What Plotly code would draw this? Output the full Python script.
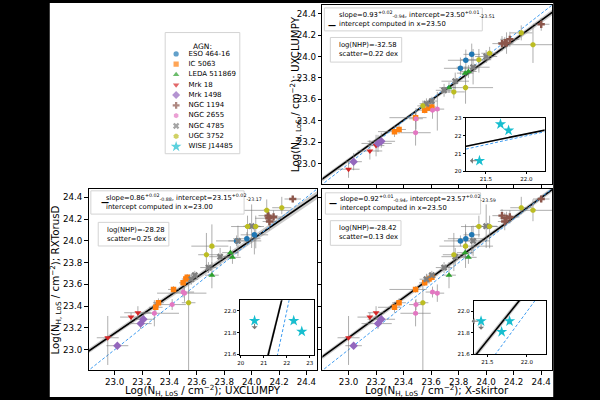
import numpy as np
import plotly.graph_objects as go

# ---------------- data ----------------
agn_names = ['ESO 464-16', 'IC 5063', 'LEDA 511869', 'Mrk 18', 'Mrk 1498',
             'NGC 1194', 'NGC 2655', 'NGC 4785', 'UGC 3752', 'WISE J14485']
agn_colors = ['#1f77b4', '#ff7f0e', '#2ca02c', '#d62728', '#9467bd',
              '#8c564b', '#e377c2', '#7f7f7f', '#bcbd22', '#17becf']
agn_symbols = ['circle', 'square', 'triangle-up', 'triangle-down', 'diamond',
               'cross', 'hexagon', 'x', 'octagon', 'star']
agn_sizes = [5.5, 5.5, 6, 6, 6.5, 6, 5.5, 6, 5.5, 8.5]

# observations (X-skirtor = S, UXCLUMPY = U, RXTorusD = R), log N_H,LoS
obs_agn = (['Mrk 18'] * 3 + ['Mrk 1498'] * 3 + ['IC 5063'] * 6 + ['NGC 2655'] * 4 +
           ['UGC 3752'] * 7 + ['NGC 4785'] * 6 + ['LEDA 511869'] * 3 +
           ['ESO 464-16'] * 3 + ['NGC 1194'] * 5)
S = [23.00, 23.155, 23.20,
     23.037, 23.214, 23.238,
     23.334, 23.367, 23.487, 23.553, 23.585, 23.605,
     23.487, 23.49, 23.61, 23.645,
     23.54, 23.765, 23.85, 23.947, 24.025, 24.255, 24.34,
     23.566, 23.605, 23.694, 23.775, 23.905, 24.00,
     23.73, 23.847, 23.871,
     23.813, 23.852, 23.895,
     24.115, 24.135, 24.148, 24.172, 24.40]
S_lo = [0.08, 0.09, 0.06, 0.06, 0.12, 0.10, 0.12, 0.05, 0.19, 0.04, 0.04, 0.03,
        0.11, 0.05, 0.05, 0.05, 0.04, 0.08, 0.19, 0.13, 0.06, 0.08, 0.24,
        0.05, 0.04, 0.06, 0.10, 0.12, 0.08, 0.05, 0.06, 0.06, 0.12, 0.13, 0.06,
        0.07, 0.05, 0.05, 0.07, 0.06]
S_hi = [0.08, 0.09, 0.06, 0.06, 0.10, 0.10, 0.05, 0.05, 0.08, 0.04, 0.04, 0.03,
        0.11, 0.05, 0.05, 0.05, 0.04, 0.08, 0.20, 0.09, 0.06, 0.08, 0.15,
        0.05, 0.04, 0.06, 0.10, 0.12, 0.08, 0.05, 0.06, 0.06, 0.12, 0.13, 0.06,
        0.07, 0.05, 0.05, 0.07, 0.06]
U = [22.95, 23.12, 23.17,
     23.02, 23.19, 23.21,
     23.30, 23.32, 23.43, 23.50, 23.52, 23.53,
     23.29, 23.42, 23.50, 23.51,
     23.54, 23.67, 23.71, 23.97, 24.03, 24.22, 24.11,
     23.56, 23.585, 23.685, 23.77, 23.90, 24.00,
     23.71, 23.845, 23.86,
     23.89, 23.965, 24.02,
     24.12, 24.13, 24.125, 24.16, 24.30]
U_lo = [0.08, 0.08, 0.10, 0.08, 0.08, 0.06, 0.05, 0.04, 0.04, 0.03, 0.03, 0.03,
        0.12, 0.10, 0.08, 0.20, 0.05, 0.06, 0.15, 0.12, 0.06, 0.07, 0.17,
        0.05, 0.04, 0.06, 0.08, 0.16, 0.06, 0.05, 0.06, 0.06, 0.06, 0.10, 0.10,
        0.07, 0.05, 0.10, 0.07, 0.06]
U_hi = [0.08, 0.10, 0.10, 0.08, 0.08, 0.08, 0.05, 0.04, 0.04, 0.03, 0.03, 0.03,
        0.18, 0.10, 0.08, 0.16, 0.05, 0.08, 0.12, 0.10, 0.06, 0.07, 0.17,
        0.05, 0.04, 0.06, 0.08, 0.17, 0.06, 0.05, 0.06, 0.06, 0.10, 0.10, 0.10,
        0.07, 0.05, 0.10, 0.07, 0.06]
R = [23.11, 23.30, 23.34,
     23.037, 23.24, 23.28,
     23.39, 23.432, 23.554, 23.615, 23.65, 23.666,
     23.335, 23.415, 23.53, 23.52,
     23.432, 23.873, 23.952, 24.132, 24.132, 24.305, 24.281,
     23.648, 23.685, 23.755, 23.855, 24.00, 24.135,
     23.685, 23.892, 23.849,
     24.00, 24.02, 24.056,
     24.232, 24.178, 24.208, 24.22, 24.385]
R_lo = [0.25, 0.04, 0.06, 0.03, 0.05, 0.04, 0.05, 0.04, 0.03, 0.03, 0.03, 0.03,
        0.12, 0.05, 0.05, 0.08, 0.80, 0.15, 0.20, 0.10, 0.20, 0.06, 0.10,
        0.05, 0.04, 0.05, 0.08, 0.14, 0.20, 0.12, 0.06, 0.06, 0.05, 0.06, 0.18,
        0.06, 0.08, 0.06, 0.06, 0.03]
R_hi = [0.20, 0.04, 0.06, 0.03, 0.05, 0.04, 0.05, 0.04, 0.03, 0.03, 0.03, 0.03,
        0.12, 0.05, 0.05, 0.08, 0.20, 0.20, 0.20, 0.10, 0.10, 0.10, 0.10,
        0.05, 0.04, 0.05, 0.08, 0.14, 0.20, 0.12, 0.06, 0.06, 0.05, 0.06, 0.08,
        0.06, 0.08, 0.06, 0.06, 0.03]

# WISE J14485 (only visible in the insets)
wise_S = [21.42, 21.68, 21.78]
wise_U = [20.60, 22.65, 22.30]
wise_R = [21.91, 21.81, 21.91]
wise_S_err = [0.0, 0.02, 0.02]
wise_U_err = [0.05, 0.05, 0.05]
wise_R_err = [0.0, 0.02, 0.03]
wise_S_uplim = [True, False, False]
wise_U_uplim = [False, False, False]
wise_R_uplim = [True, False, False]

# fits (top-right: S vs U, bottom-left: U vs R, bottom-right: S vs R)
fit_slope = [0.93, 0.86, 0.92]
fit_slope_err = [0.02, 0.02, 0.01]
fit_slope_lo_txt = ['-0.94', '-0.88', '-0.94']
fit_slope_hi_txt = ['+0.02', '+0.02', '+0.01']
fit_int = [23.50, 23.15, 23.57]
fit_int_err = [0.015, 0.02, 0.02]
fit_int_lo_txt = ['-23.51', '-23.17', '-23.59']
fit_int_hi_txt = ['+0.01', '+0.02', '+0.02']
fit_x0 = [23.50, 23.00, 23.50]
fit_lognhp = ['-32.58', '-28.28', '-28.42']
fit_scatter = ['0.22', '0.25', '0.13']

main_ticks = [23.0, 23.2, 23.4, 23.6, 23.8, 24.0, 24.2, 24.4]

# ---------------- layout helpers ----------------
W, H = 600, 400
FONT = 'DejaVu Sans'


def px(x):
    return x / W


def py(y):
    return 1 - y / H


main_range = [22.81, 24.48]
main_dom = {
    0: ([px(321), px(552)], [py(184), py(2)]),
    1: ([px(86), px(316)], [py(373), py(188.5)]),
    2: ([px(321), px(552)], [py(373), py(188.5)]),
}
inset_dom = {
    0: ([px(465), px(544.3)], [py(171), py(116.7)]),
    1: ([px(238.5), px(313)], [py(357.7), py(301.7)]),
    2: ([px(473.3), px(545.7)], [py(356.7), py(302.3)]),
}
inset_xr = {0: [21.25, 22.225], 1: [19.98, 23.2], 2: [21.33, 22.24]}
inset_yr = {0: [20.0, 23.0], 1: [21.59, 22.1], 2: [21.6, 22.1]}
inset_xt = {0: [21.5, 22.0], 1: [20, 21, 22, 23], 2: [21.5, 22.0]}
inset_yt = {0: [20, 21, 22, 23], 1: [21.6, 21.8, 22.0], 2: [21.6, 21.8, 22.0]}
inset_xtt = {0: ['21.5', '22.0'], 1: ['20', '21', '22', '23'], 2: ['21.5', '22.0']}
inset_ytt = {0: ['20', '21', '22', '23'], 1: ['21.6', '21.8', '22.0'], 2: ['21.6', '21.8', '22.0']}

panel_vars = {0: ('S', 'U'), 1: ('U', 'R'), 2: ('S', 'R')}
vals = {'S': (S, S_lo, S_hi), 'U': (U, U_lo, U_hi), 'R': (R, R_lo, R_hi)}
wvals = {'S': (wise_S, wise_S_err, wise_S_uplim), 'U': (wise_U, wise_U_err, wise_U_uplim),
         'R': (wise_R, wise_R_err, wise_R_uplim)}

main_ax = {0: ('x', 'y'), 1: ('x2', 'y2'), 2: ('x3', 'y3')}
inset_ax = {0: ('x4', 'y4'), 1: ('x5', 'y5'), 2: ('x6', 'y6')}

fig = go.Figure()
ERR_COL = 'rgba(120,120,120,0.6)'
BAND_COL = 'rgba(140,140,140,0.45)'
ONE_COL = '#3d9bf0'


def add_fit(p, xa, ya, xr):
    xs = np.linspace(xr[0] - 0.3, xr[1] + 0.3, 120)
    m, b, x0 = fit_slope[p], fit_int[p], fit_x0[p]
    yfit = b + m * (xs - x0)
    hw = np.sqrt((fit_slope_err[p] * (xs - x0)) ** 2 + fit_int_err[p] ** 2)
    fig.add_trace(go.Scatter(x=np.concatenate([xs, xs[::-1]]),
                             y=np.concatenate([yfit + hw, (yfit - hw)[::-1]]),
                             fill='toself', fillcolor=BAND_COL, line=dict(width=0),
                             mode='lines', xaxis=xa, yaxis=ya, showlegend=False,
                             hoverinfo='skip'))
    fig.add_trace(go.Scatter(x=xs, y=yfit, mode='lines', line=dict(color='black', width=1.6),
                             xaxis=xa, yaxis=ya, showlegend=False, hoverinfo='skip'))
    fig.add_trace(go.Scatter(x=xs, y=xs, mode='lines',
                             line=dict(color=ONE_COL, width=1, dash='3px,2px'),
                             xaxis=xa, yaxis=ya, showlegend=False, hoverinfo='skip'))


for p in range(3):
    vx, vy = panel_vars[p]
    X, Xlo, Xhi = vals[vx]
    Y, Ylo, Yhi = vals[vy]
    # ---- main panel ----
    xa, ya = main_ax[p]
    add_fit(p, xa, ya, main_range)
    fig.add_trace(go.Scatter(
        x=X, y=Y, mode='markers', marker=dict(size=2, opacity=0),
        error_x=dict(type='data', symmetric=False, array=Xhi, arrayminus=Xlo,
                     color=ERR_COL, thickness=1, width=0),
        error_y=dict(type='data', symmetric=False, array=Yhi, arrayminus=Ylo,
                     color=ERR_COL, thickness=1, width=0),
        xaxis=xa, yaxis=ya, showlegend=False, hoverinfo='skip'))
    for k, name in enumerate(agn_names[:-1]):
        idx = [i for i, a in enumerate(obs_agn) if a == name]
        fig.add_trace(go.Scatter(
            x=[X[i] for i in idx], y=[Y[i] for i in idx], mode='markers',
            marker=dict(symbol=agn_symbols[k], color=agn_colors[k], size=agn_sizes[k],
                        line=dict(width=0)),
            xaxis=xa, yaxis=ya, showlegend=False, name=name))
    # ---- inset ----
    xa, ya = inset_ax[p]
    add_fit(p, xa, ya, inset_xr[p])
    WX, WXe, WXu = wvals[vx]
    WY, WYe, WYu = wvals[vy]
    fig.add_trace(go.Scatter(
        x=WX, y=WY, mode='markers',
        marker=dict(symbol='star', color=agn_colors[-1], size=8.5, line=dict(width=0)),
        error_x=dict(type='data', array=WXe, color=ERR_COL, thickness=1, width=0),
        error_y=dict(type='data', array=WYe, color=ERR_COL, thickness=1, width=0),
        xaxis=xa, yaxis=ya, showlegend=False, name=agn_names[-1]))
    for i in range(len(WX)):
        if WXu[i]:
            fig.add_annotation(x=WX[i], y=WY[i], xref=xa, yref=ya, ax=-11, ay=0,
                               text='', showarrow=True, arrowside='start', arrowhead=2,
                               arrowsize=0.8, arrowwidth=1, arrowcolor='rgb(120,120,120)',
                               standoff=3)
        if WYu[i]:
            fig.add_annotation(x=WX[i], y=WY[i], xref=xa, yref=ya, ax=0, ay=10,
                               text='', showarrow=True, arrowside='start', arrowhead=2,
                               arrowsize=0.8, arrowwidth=1, arrowcolor='rgb(120,120,120)',
                               standoff=3)

# ---------------- custom legend (subplot 7) ----------------
leg_y = [21.7 + 10.45 * i for i in range(len(agn_names))]
fig.add_trace(go.Scatter(
    x=[11] * len(agn_names), y=leg_y, mode='markers',
    marker=dict(symbol=agn_symbols, color=agn_colors,
                size=[s * 0.95 for s in agn_sizes], line=dict(width=0)),
    xaxis='x7', yaxis='y7', showlegend=False, hoverinfo='skip'))
fig.add_trace(go.Scatter(
    x=[23.5] * len(agn_names), y=leg_y, mode='text', text=agn_names,
    textposition='middle right', textfont=dict(family=FONT, size=7, color='black'),
    xaxis='x7', yaxis='y7', showlegend=False, hoverinfo='skip'))

# ---------------- axes ----------------
tick_txt = ['%.1f' % t for t in main_ticks]
title_txt = 'Log(N<sub>H, LoS</sub> / cm<sup>\u22122</sup>); '


def main_axis(dom, show_labels):
    return dict(domain=dom, range=main_range, showline=True, mirror=True, linecolor='black',
                linewidth=1, ticks='outside', ticklen=3.5, tickwidth=1, tickcolor='black',
                tickvals=main_ticks, ticktext=tick_txt, showticklabels=show_labels,
                tickfont=dict(family=FONT, size=8.7, color='black'),
                showgrid=False, zeroline=False)


def inset_axis(dom, rng, tv, tt, anchor):
    return dict(domain=dom, range=rng, showline=True, mirror=True, linecolor='black',
                linewidth=1, ticks='outside', ticklen=2, tickwidth=0.8, tickcolor='black',
                tickvals=tv, ticktext=tt, tickfont=dict(family=FONT, size=5.5, color='black'),
                showgrid=False, zeroline=False, anchor=anchor)


layout = dict(
    width=W, height=H, autosize=False, margin=dict(l=0, r=0, t=0, b=0),
    paper_bgcolor='black', plot_bgcolor='white', showlegend=False,
    font=dict(family=FONT, color='black'),
    xaxis=dict(main_axis(main_dom[0][0], False), anchor='y'),
    yaxis=dict(main_axis(main_dom[0][1], True), anchor='x'),
    xaxis2=dict(main_axis(main_dom[1][0], True), anchor='y2'),
    yaxis2=dict(main_axis(main_dom[1][1], True), anchor='x2'),
    xaxis3=dict(main_axis(main_dom[2][0], True), anchor='y3'),
    yaxis3=dict(main_axis(main_dom[2][1], False), anchor='x3'),
    xaxis7=dict(domain=[px(163), px(238)], range=[0, 75], visible=False, anchor='y7'),
    yaxis7=dict(domain=[py(153), py(30)], range=[123, 0], visible=False, anchor='x7'),
)
for p, n in zip(range(3), (4, 5, 6)):
    layout['xaxis%d' % n] = inset_axis(inset_dom[p][0], inset_xr[p], inset_xt[p],
                                       inset_xtt[p], 'y%d' % n)
    layout['yaxis%d' % n] = inset_axis(inset_dom[p][1], inset_yr[p], inset_yt[p],
                                       inset_ytt[p], 'x%d' % n)
fig.update_layout(**layout)

# axis titles
axis_titles = [
    (title_txt + 'UXCLUMPY', 294, 93, -90),
    (title_txt + 'RXTorusD', 53, 281, -90),
    (title_txt + 'UXCLUMPY', 201, 393.3, 0),
    (title_txt + 'X-skirtor', 436, 393.3, 0),
]
for txt, tx, ty, ang in axis_titles:
    fig.add_annotation(x=px(tx), y=py(ty), xref='paper', yref='paper', text=txt,
                       textangle=ang, showarrow=False, xanchor='center', yanchor='middle',
                       font=dict(family=FONT, size=10.3, color='black'))

# white figure area between black side strips
shapes = [dict(type='rect', xref='paper', yref='paper', x0=px(47), x1=px(553), y0=0, y1=1,
               fillcolor='white', line=dict(width=0), layer='below')]
# legend frame
shapes.append(dict(type='rect', xref='paper', yref='paper', x0=px(163), x1=px(238),
                   y0=py(153), y1=py(30), line=dict(color='#d3d3d3', width=1),
                   fillcolor='rgba(0,0,0,0)', layer='above'))
fig.add_annotation(x=px(200.5), y=py(38), xref='paper', yref='paper', text='AGN:',
                   showarrow=False, font=dict(family=FONT, size=7.5, color='black'))

# text boxes (fit summary)
box1 = {0: (323, 481.7, 5, 28.3), 1: (88.3, 242.3, 190.7, 214.3), 2: (324, 480, 192.7, 214.3)}
box2 = {0: (329, 400.7, 35, 60), 1: (95.7, 166.7, 222.7, 246.7), 2: (329, 400, 221, 246)}
for p in range(3):
    x0, x1, y0, y1 = box1[p]
    shapes.append(dict(type='rect', xref='paper', yref='paper', x0=px(x0), x1=px(x1),
                       y0=py(y1), y1=py(y0), line=dict(color='#d3d3d3', width=1),
                       fillcolor='white', layer='above'))
    fig.add_annotation(x=px(x0 + 8), y=py((y0 + y1) / 2), xref='paper', yref='paper',
                       text='<b>\u2014</b>', showarrow=False,
                       font=dict(family=FONT, size=8, color='black'))
    txt = ('slope=%.2f<sup>%s</sup><sub>%s</sub>, intercept=%.2f<sup>%s</sup><sub>%s</sub>'
           '<br>intercept computed in x=%.2f' % (fit_slope[p], fit_slope_hi_txt[p],
                                                 fit_slope_lo_txt[p], fit_int[p],
                                                 fit_int_hi_txt[p], fit_int_lo_txt[p],
                                                 fit_x0[p]))
    fig.add_annotation(x=px(x0 + 13), y=py((y0 + y1) / 2), xref='paper', yref='paper',
                       text=txt, showarrow=False, xanchor='left', yanchor='middle',
                       align='left', font=dict(family=FONT, size=6.8, color='black'))
    x0, x1, y0, y1 = box2[p]
    shapes.append(dict(type='rect', xref='paper', yref='paper', x0=px(x0), x1=px(x1),
                       y0=py(y1), y1=py(y0), line=dict(color='#d3d3d3', width=1),
                       fillcolor='white', layer='above'))
    fig.add_annotation(x=px(x0 + 6.5), y=py((y0 + y1) / 2), xref='paper', yref='paper',
                       text='log(NHP)=%s<br>scatter=%s dex' % (fit_lognhp[p], fit_scatter[p]),
                       showarrow=False, xanchor='left', yanchor='middle', align='left',
                       font=dict(family=FONT, size=6.8, color='black'))
fig.update_layout(shapes=shapes)

fig.write_html('out.html')
